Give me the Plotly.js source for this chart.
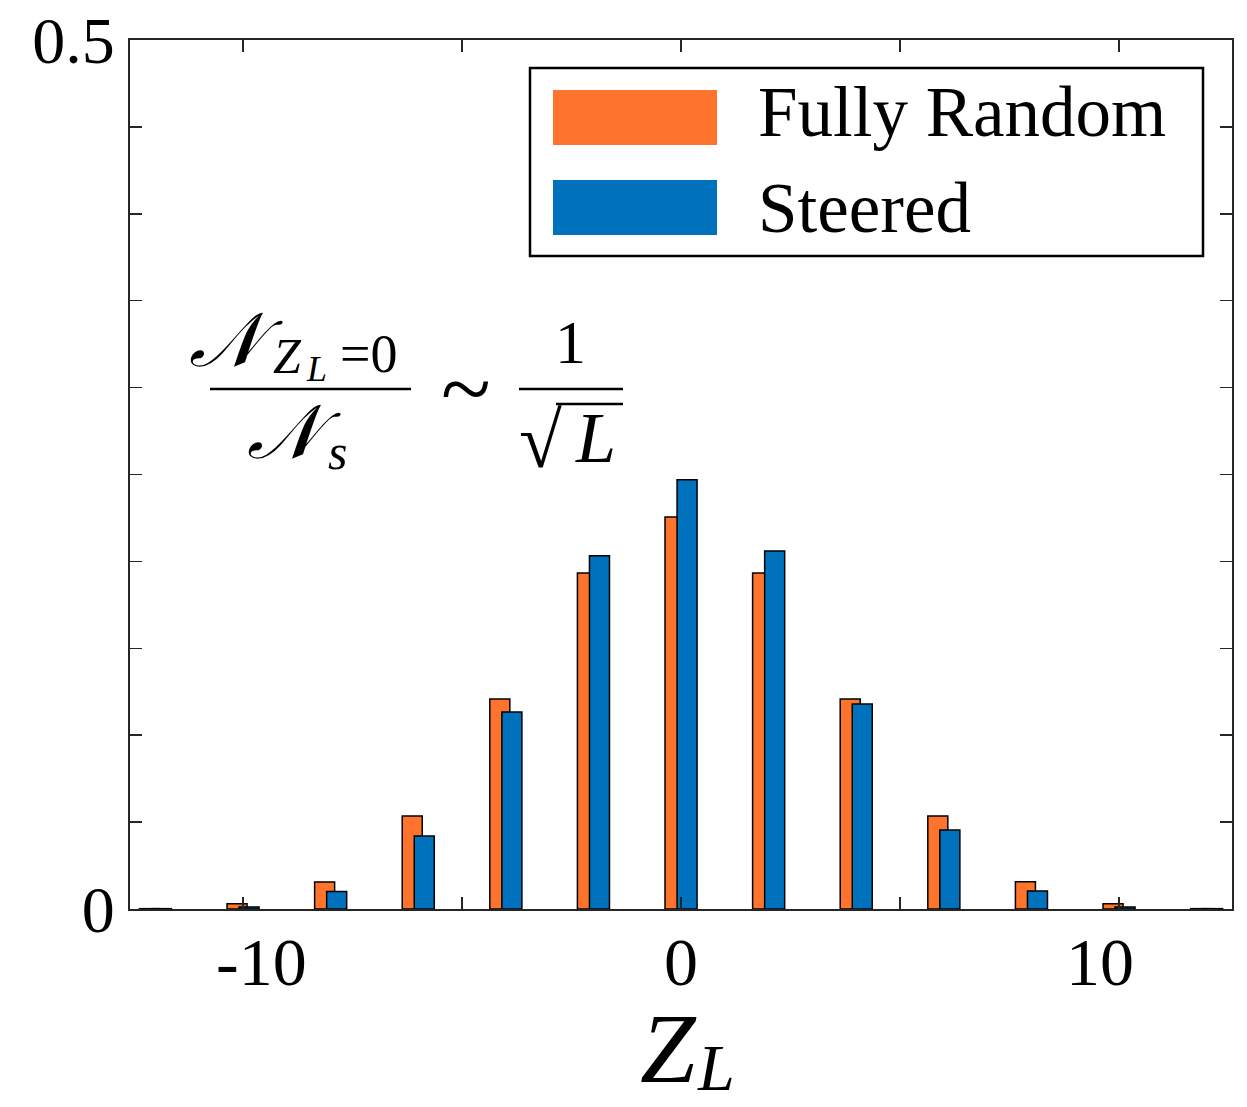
<!DOCTYPE html>
<html>
<head>
<meta charset="utf-8">
<script src="https://cdn.plot.ly/plotly-3.0.1.min.js"></script>
<style>html,body{margin:0;padding:0;background:#fff;}</style>
</head>
<body>
<div id="chart" style="width:1247px;height:1107px;"></div>
<script>
// ---- data ----
const zValues = [-12, -10, -8, -6, -4, -2, 0, 2, 4, 6, 8, 10, 12];
const fullyRandom = [0.0002, 0.0030, 0.0156, 0.0535, 0.1208, 0.1933, 0.2255, 0.1933, 0.1208, 0.0535, 0.0157, 0.0030, 0.0002];
const steered     = [0.0002, 0.0012, 0.0100, 0.0420, 0.1133, 0.2033, 0.2470, 0.2060, 0.1180, 0.0455, 0.0104, 0.0012, 0.0002];
const seriesNames = ["Fully Random", "Steered"];
const seriesColors = ["#FF742C", "#0072BD"];
const xTickVals = [-10, -5, 0, 5, 10];
const xTickLabels = ["-10", "0", "10"];
const xTickLabelPos = [-9.57, 0, 9.57];
const yTickVals = [0, 0.5];
const yTickText = ["0", "0.5"];
const yMinorStep = 0.05;
const xTitleMain = "<i>Z</i>";
const xTitleSub = "<i>L</i>";

// ---- layout helpers (pixel -> paper) ----
const L = 130, R = 1232, T = 40, B = 909;
const px = x => (x - L) / (R - L);
const py = y => (B - y) / (B - T);
const SERIF = "Liberation Serif, DejaVu Serif, serif";
const AX = "#262626";

const traces = [
  {type: "bar", x: zValues, y: fullyRandom, name: seriesNames[0], offset: -0.365, width: 0.457,
   marker: {color: seriesColors[0], line: {color: "#000", width: 1.5}}, showlegend: false},
  {type: "bar", x: zValues, y: steered, name: seriesNames[1], offset: -0.09, width: 0.457,
   marker: {color: seriesColors[1], line: {color: "#000", width: 1.5}}, showlegend: false}
];

const shapes = [
  // legend box
  {type: "rect", xref: "paper", yref: "paper", x0: px(530), x1: px(1203), y0: py(256), y1: py(68),
   line: {color: "#000", width: 2.5}, fillcolor: "#fff", layer: "above"},
  {type: "rect", xref: "paper", yref: "paper", x0: px(553), x1: px(717), y0: py(145), y1: py(90),
   line: {width: 0}, fillcolor: seriesColors[0], layer: "above"},
  {type: "rect", xref: "paper", yref: "paper", x0: px(553), x1: px(717), y0: py(235), y1: py(180),
   line: {width: 0}, fillcolor: seriesColors[1], layer: "above"},
  // fraction bars
  {type: "line", xref: "paper", yref: "paper", x0: px(210), x1: px(411), y0: py(389), y1: py(389),
   line: {color: "#000", width: 2.5}},
  {type: "line", xref: "paper", yref: "paper", x0: px(519), x1: px(623), y0: py(389), y1: py(389),
   line: {color: "#000", width: 2.5}},
  // radical overline
  {type: "line", xref: "paper", yref: "paper", x0: px(556), x1: px(623), y0: py(404), y1: py(404),
   line: {color: "#000", width: 2.5}}
];

const ann = (text, x, y, size, opts) => Object.assign({
  text: text, xref: "paper", yref: "paper", x: px(x), y: py(y), showarrow: false,
  xanchor: "center", yanchor: "middle", font: {family: SERIF, size: size, color: "#000"}
}, opts || {});

const annotations = [
  // legend text
  ann(seriesNames[0], 756, 112, 71, {xanchor: "left"}),
  ann(seriesNames[1], 756, 208, 71, {xanchor: "left"}),
  // equation
  ann("<i>𝒩</i>", 236, 340, 76),
  ann("<i>Z</i>", 287, 356, 50),
  ann("<i>L</i>", 316, 369, 36),
  ann("=0", 368, 354, 54),
  ann("<i>𝒩</i>", 294, 432, 76),
  ann("<i>s</i>", 337, 452, 50),
  ann("~", 466, 388, 92),
  ann("1", 570, 342, 62),
  ann("√", 540, 440, 78),
  ann("<i>L</i>", 595, 438, 72),
  // x axis title
  ann(xTitleMain, 668, 1106, 100, {yanchor: "bottom"}),
  ann(xTitleSub, 716, 1106, 66, {yanchor: "bottom"}),
];
// x tick labels
xTickLabels.forEach((t, i) => annotations.push({
  text: t, xref: "x", yref: "paper", x: xTickLabelPos[i], y: py(962), showarrow: false,
  xanchor: "center", yanchor: "middle", font: {family: SERIF, size: 68, color: "#000"}
}));

const layout = {
  width: 1247, height: 1107,
  margin: {l: L, r: 1247 - R, t: T, b: 1107 - B, pad: 0},
  paper_bgcolor: "#fff", plot_bgcolor: "#fff",
  barmode: "overlay",
  showlegend: false,
  xaxis: {
    range: [-12.58, 12.58], tickmode: "array", tickvals: xTickVals, showticklabels: false,
    ticks: "inside", ticklen: 12, tickwidth: 1.5, tickcolor: AX,
    showline: true, linecolor: AX, linewidth: 2, mirror: "allticks",
    showgrid: false, zeroline: false, fixedrange: true, automargin: false
  },
  yaxis: {
    range: [0, 0.5], tickmode: "array", tickvals: yTickVals, ticktext: yTickText,
    ticks: "inside", ticklen: 12, tickwidth: 1.5, tickcolor: AX,
    minor: {dtick: yMinorStep, ticks: "inside", ticklen: 12, tickwidth: 1.5, tickcolor: AX, showgrid: false},
    showline: true, linecolor: AX, linewidth: 2, mirror: "allticks",
    showgrid: false, zeroline: false, fixedrange: true,
    tickfont: {family: SERIF, size: 66, color: "#000"}, automargin: false
  },
  shapes: shapes,
  annotations: annotations
};

Plotly.newPlot("chart", traces, layout, {displayModeBar: false, staticPlot: true});
</script>
</body>
</html>
